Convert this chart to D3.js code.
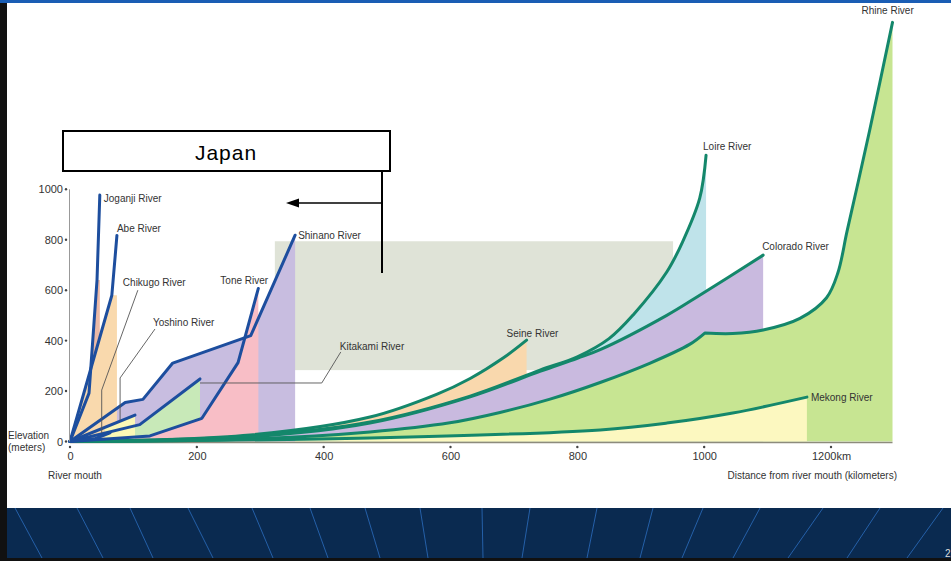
<!DOCTYPE html>
<html>
<head>
<meta charset="utf-8">
<script src="https://cdn.jsdelivr.net/npm/d3@7"></script>
<style>
body { margin: 0; background: #fff; }
svg { display: block; }
text { font-family: "Liberation Sans", Arial, sans-serif; }
</style>
</head>
<body>
<svg id="chart" width="951" height="561"></svg>
<script>
// axis ticks
var kmTicks = [0, 200, 400, 600, 800, 1000, 1200],
    kmTickLabels = ["0", "200", "400", "600", "800", "1000", "1200km"],
    mTicks = [0, 200, 400, 600, 800, 1000];

// japanese rivers: [distance km, elevation m]
var joganji = [[0, 0], [30, 192], [42.6, 640], [47, 977]],
    abe = [[0, 0], [66, 580], [74, 817]],
    chikugo = [[0, 0], [40, 12], [63, 34]],
    yoshino = [[0, 0], [102.5, 105]],
    kitakami = [[0, 0], [110, 67], [205, 248]],
    tone = [[0, 0], [126, 22], [208, 92], [265, 313], [297, 607]],
    shinano = [[0, 0], [87, 155], [115, 167], [162, 311], [285, 420], [355, 818]];

// shaded parts that are not plain "area under the line"
var joganjiFill = [[0, 0], [30, 192], [42.6, 640], [47, 640], [47, 0]],
    abeFill = [[0, 0], [66, 580], [74, 580], [74, 0]],
    yoshinoFill = [[55, 0], [55, 56], [102.5, 105], [102.5, 0]];

// leader lines for labels
var chikugoLeader = [[107, 600], [50, 204], [50, 34]],
    yoshinoLeader = [[134, 446], [79, 252], [79, 85]],
    kitakamiLeader = [[427, 355], [397, 232], [205, 232]];

// other rivers
var seine = [[0, 0], [284, 26], [473, 97], [579, 188], [631, 250], [683, 331], [720, 402]],
    loire = [[0, 0], [284, 22], [473, 77], [631, 180], [741, 283], [800, 336], [850, 408], [888, 502], [941, 672], [966, 792], [993, 965], [1003, 1135]],
    colorado = [[0, 0], [284, 18], [473, 73], [631, 177], [741, 278], [800, 330], [836, 364], [941, 500], [993, 580], [1093, 739]],
    rhine = [[0, 0], [284, 10], [473, 38], [599, 74], [678, 115], [757, 168], [836, 234], [914, 310], [977, 385], [1001, 430], [1045, 428], [1093, 442], [1151, 488], [1193, 570], [1211, 670], [1225, 830], [1241, 1008], [1261, 1234], [1297, 1662]],
    rhineKink = 1001,
    mekong = [[0, 0], [473, 14], [836, 46], [941, 73], [1045, 113], [1162, 176]];

// the grey panel behind the chart [km0, km1, m0, m1]
var greyPanel = [323, 951, 283, 794];

var svg = d3.select("#chart"),
    x = d3.scaleLinear().domain([0, 1200]).range([70, 831]),
    y = d3.scaleLinear().domain([0, 1000]).range([441.5, 189.3]);

var blue = "#1d4e9e",
    teal = "#14876b";

// slide frame
svg.append("rect").attr("width", 951).attr("height", 561).attr("fill", "#fff");
svg.append("rect").attr("x", 7).attr("y", 508).attr("width", 944).attr("height", 51).attr("fill", "#0a2a50");
var bannerLines = [[15, 42], [77, 103], [130, 153], [188, 213], [252, 273], [310, 328], [365, 380], [420, 428],
                   [482, 483], [530, 522], [597, 587], [653, 640], [703, 682], [760, 733], [823, 788], [880, 847], [943, 907]];
svg.append("g").selectAll("line").data(bannerLines).enter().append("line")
    .attr("x1", function(d) { return d[0]; }).attr("y1", 508)
    .attr("x2", function(d) { return d[1]; }).attr("y2", 558)
    .attr("stroke", "#2560a8").attr("stroke-width", 1);
svg.append("rect").attr("x", 0).attr("y", 0).attr("width", 7).attr("height", 561).attr("fill", "#111");
svg.append("rect").attr("x", 0).attr("y", 0).attr("width", 951).attr("height", 3).attr("fill", "#1a5db4");
svg.append("rect").attr("x", 0).attr("y", 558).attr("width", 951).attr("height", 3).attr("fill", "#111");
svg.append("text").attr("x", 945).attr("y", 557).attr("font-size", 10).attr("fill", "#ddd").text("2");

var g = svg.append("g");

g.append("rect")
    .attr("x", x(greyPanel[0])).attr("y", y(greyPanel[3]))
    .attr("width", x(greyPanel[1]) - x(greyPanel[0]))
    .attr("height", y(greyPanel[2]) - y(greyPanel[3]))
    .attr("fill", "#dfe3d7");

var smoothLine = d3.line().x(function(d) { return x(d[0]); }).y(function(d) { return y(d[1]); }).curve(d3.curveCatmullRom.alpha(0.5)),
    straight = d3.line().x(function(d) { return x(d[0]); }).y(function(d) { return y(d[1]); }),
    straightArea = d3.area().x(function(d) { return x(d[0]); }).y0(y(0)).y1(function(d) { return y(d[1]); });

// smooth profile, optionally with a sharp corner at one distance
function profile(pts, corner) {
    if (corner === undefined) return smoothLine(pts);
    var a = pts.filter(function(d) { return d[0] <= corner; }),
        b = pts.filter(function(d) { return d[0] >= corner; });
    return smoothLine(a) + smoothLine(b).replace(/^M/, "L");
}
function profileArea(pts, corner) {
    var last = pts[pts.length - 1];
    return profile(pts, corner) + "L" + x(last[0]) + "," + y(0) + "L" + x(pts[0][0]) + "," + y(0) + "Z";
}

// fills of the long rivers (order gives the banded look)
var world = [
    {name: "Seine River", pts: seine, fill: "#f9d8ad", label: [-20, -7]},
    {name: "Loire River", pts: loire, fill: "#bfe3ea", label: [-3, -9]},
    {name: "Colorado River", pts: colorado, fill: "#c9badf", label: [-1, -9]},
    {name: "Rhine River", pts: rhine, corner: rhineKink, fill: "#c7e592", label: [-31, -12]},
    {name: "Mekong River", pts: mekong, fill: "#fcf8c0", label: [4, 0]}
];
world.forEach(function(r) {
    g.append("path").attr("d", profileArea(r.pts, r.corner)).attr("fill", r.fill);
});

// japanese fills
g.append("path").attr("d", straightArea(shinano)).attr("fill", "#c8bde0");
g.append("path").attr("d", straightArea(kitakami)).attr("fill", "#c8e9b8");
g.append("path").attr("d", straightArea(tone)).attr("fill", "#f8bec6");
g.append("path").attr("d", straight(joganjiFill) + "Z").attr("fill", "#ebb9a6");
g.append("path").attr("d", straight(abeFill) + "Z").attr("fill", "#f9d9ad");
g.append("path").attr("d", straight(yoshinoFill) + "Z").attr("fill", "#fbf8b6");

// axis baseline
g.append("line").attr("x1", x(0)).attr("x2", x(1297)).attr("y1", y(0) + 1).attr("y2", y(0) + 1)
    .attr("stroke", "#8d8b7c").attr("stroke-width", 1.5);

world.forEach(function(r) {
    g.append("path").attr("d", profile(r.pts, r.corner))
        .attr("fill", "none").attr("stroke", teal).attr("stroke-width", 3)
        .attr("stroke-linejoin", "round").attr("stroke-linecap", "round");
});

var japan = [
    {name: "Shinano River", pts: shinano, label: [3, 0]},
    {name: "Tone River", pts: tone, label: [-38, -8]},
    {name: "Kitakami River", pts: kitakami, leader: kitakamiLeader, label: [-1, -5]},
    {name: "Yoshino River", pts: yoshino, leader: yoshinoLeader, label: [-2, -7]},
    {name: "Chikugo River", pts: chikugo, leader: chikugoLeader, label: [-15, -8]},
    {name: "Abe River", pts: abe, label: [0, -7]},
    {name: "Joganji River", pts: joganji, label: [4, 3]}
];
japan.forEach(function(r) {
    g.append("path").attr("d", straight(r.pts))
        .attr("fill", "none").attr("stroke", blue).attr("stroke-width", 3)
        .attr("stroke-linejoin", "round").attr("stroke-linecap", "round");
    if (r.leader) {
        g.append("path").attr("d", straight(r.leader))
            .attr("fill", "none").attr("stroke", "#555").attr("stroke-width", 0.9);
    }
});

// river labels
world.concat(japan).forEach(function(r) {
    var a = r.leader ? r.leader[0] : r.pts[r.pts.length - 1];
    g.append("text")
        .attr("x", x(a[0]) + r.label[0])
        .attr("y", y(a[1]) + r.label[1])
        .attr("dy", "0.35em")
        .attr("font-size", 10)
        .attr("fill", "#333")
        .text(r.name);
});

// axes
var yAxis = g.append("g").attr("transform", "translate(" + x(0) + ",0)")
    .call(d3.axisLeft(y).tickValues(mTicks).tickSize(0).tickPadding(7).tickFormat(d3.format("d")));
yAxis.select(".domain").remove();
yAxis.selectAll("text").attr("font-size", 11).attr("fill", "#333").attr("font-family", null);
g.append("line").attr("x1", x(0) - 0.5).attr("x2", x(0) - 0.5).attr("y1", y(1000)).attr("y2", y(0))
    .attr("stroke", "#999").attr("stroke-width", 1);
g.selectAll(".ydot").data(mTicks).enter().append("circle")
    .attr("cx", x(0) - 4).attr("cy", function(d) { return y(d); }).attr("r", 1.2).attr("fill", "#444");

var xAxis = g.append("g").attr("transform", "translate(0," + y(0) + ")")
    .call(d3.axisBottom(x).tickValues(kmTicks).tickSize(0).tickPadding(11)
        .tickFormat(function(d, i) { return kmTickLabels[i]; }));
xAxis.select(".domain").remove();
xAxis.selectAll("text").attr("font-size", 11).attr("fill", "#333").attr("font-family", null);
g.selectAll(".xdot").data(kmTicks).enter().append("circle")
    .attr("cx", function(d) { return x(d); }).attr("cy", y(0) + 5.5).attr("r", 1.2).attr("fill", "#444");

g.append("text").attr("x", 8).attr("y", 439).attr("font-size", 10).attr("fill", "#333").text("Elevation");
g.append("text").attr("x", 8).attr("y", 451).attr("font-size", 10).attr("fill", "#333").text("(meters)");
g.append("text").attr("x", 48).attr("y", 479).attr("font-size", 10).attr("fill", "#333").text("River mouth");
g.append("text").attr("x", 897).attr("y", 479).attr("text-anchor", "end").attr("font-size", 10).attr("fill", "#333")
    .text("Distance from river mouth (kilometers)");

// "Japan" callout
svg.append("rect").attr("x", 63).attr("y", 131).attr("width", 327).attr("height", 40)
    .attr("fill", "#fff").attr("stroke", "#000").attr("stroke-width", 2);
svg.append("text").attr("x", 226).attr("y", 160).attr("text-anchor", "middle")
    .attr("font-family", "'DejaVu Sans', Verdana, sans-serif").attr("font-size", 21)
    .attr("letter-spacing", 1).attr("fill", "#000").text("Japan");
svg.append("line").attr("x1", 382).attr("x2", 382).attr("y1", 171).attr("y2", 273)
    .attr("stroke", "#000").attr("stroke-width", 2);
svg.append("line").attr("x1", 382).attr("x2", 296).attr("y1", 203).attr("y2", 203)
    .attr("stroke", "#000").attr("stroke-width", 1.5);
svg.append("path").attr("d", "M286,203L299,198.5L299,207.5Z").attr("fill", "#000");
</script>
</body>
</html>
